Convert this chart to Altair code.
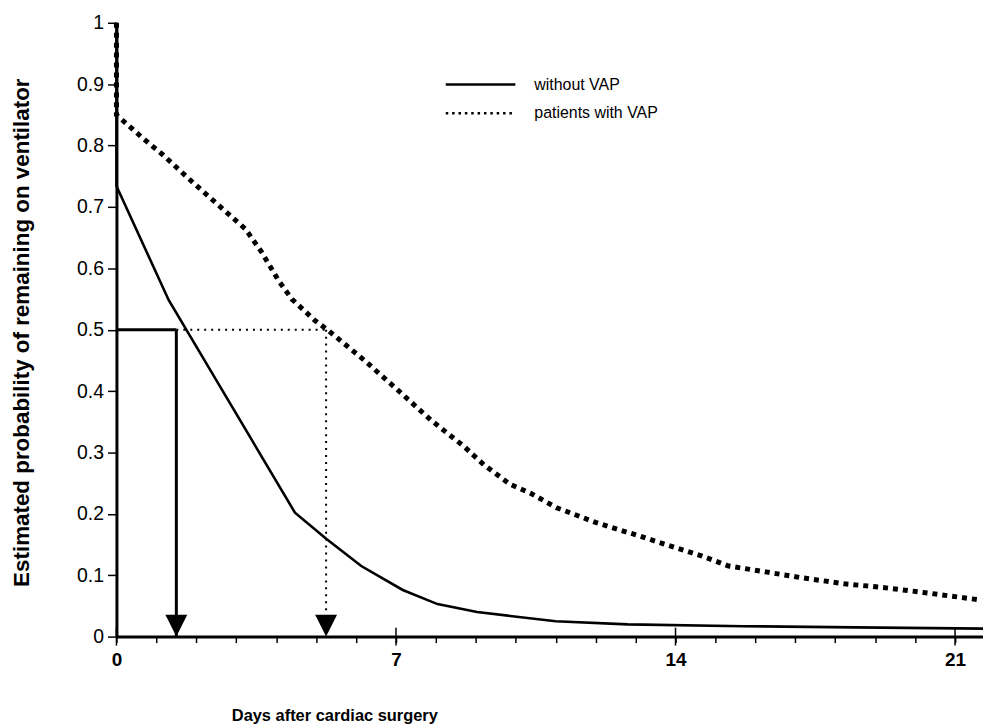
import altair as alt
import pandas as pd

# ---- data ----
no_vap_days = [0, 0, 1.31, 4.47, 5.26, 6.13, 7.17, 8.04, 9.03, 11.0, 12.8, 15.7, 18.5, 21.7]
no_vap_prob = [1.0, 0.734, 0.548, 0.202, 0.159, 0.115, 0.076, 0.053, 0.040, 0.025, 0.020, 0.017, 0.015, 0.013]

vap_days = [0, 0, 0.66, 1.16, 1.86, 2.57, 3.23, 3.64, 4.06, 4.39, 4.97, 5.3, 6.21, 7.04,
            7.87, 8.7, 9.2, 9.86, 10.36, 11.02, 12.0, 13.09, 14.0, 14.67, 15.33, 16.3,
            17.15, 18.23, 19.2, 20.2, 21.6]
vap_prob = [1.0, 0.85, 0.812, 0.785, 0.743, 0.702, 0.664, 0.626, 0.58, 0.55, 0.515, 0.499,
            0.45, 0.402, 0.353, 0.31, 0.28, 0.248, 0.234, 0.21, 0.186, 0.164, 0.145, 0.131,
            0.115, 0.105, 0.096, 0.086, 0.080, 0.072, 0.060]

series_names = ["without VAP", "patients with VAP"]
median_days = [1.5, 5.25]
median_level = 0.5

y_ticks = [0, 0.1, 0.2, 0.3, 0.4, 0.5, 0.6, 0.7, 0.8, 0.9, 1]
x_ticks = list(range(0, 22))
x_major = [0, 7, 14, 21]
x_domain = [0, 21.7]

x_title = "Days after cardiac surgery"
y_title = "Estimated probability of remaining on ventilator"

# ---- styling ----
SANS = "Liberation Sans, Arial, sans-serif"
NARROW = "'Liberation Sans Narrow', 'Arial Narrow', 'Liberation Sans', sans-serif"

x_scale = alt.Scale(domain=x_domain, nice=False, zero=False)
y_scale = alt.Scale(domain=[0, 1], nice=False)

x_axis = alt.Axis(
    values=x_ticks, format="d", title=x_title, grid=False,
    labelExpr="datum.value % 7 === 0 ? datum.label : ''",
    domainColor="black", domainWidth=3, tickColor="black", tickWidth=1.5, tickSize=6,
    labelFont=NARROW, labelFontSize=19, labelFontWeight="bold", labelColor="black",
    labelPadding=8, labelFlush=False, labelOverlap=False,
    titleFont=NARROW, titleFontSize=16.5, titleFontWeight="bold", titleColor="black",
    titleX=219, titleY=79, titleAlign="center", titleBaseline="middle",
)
y_axis = alt.Axis(
    values=y_ticks, format="~g", title=y_title, grid=False,
    domainColor="black", domainWidth=3, tickColor="black", tickWidth=1.5, tickSize=9,
    labelFont=SANS, labelFontSize=19.5, labelColor="black", labelPadding=4,
    labelFlush=False, labelOverlap=False,
    titleFont=SANS, titleFontSize=22.5, titleFontWeight="bold", titleColor="black",
    titleX=-95, titleY=311, titleAlign="center", titleBaseline="middle", titleAngle=270,
)


def X(field):
    return alt.X(field, scale=x_scale, axis=x_axis)


def Y(field):
    return alt.Y(field, scale=y_scale, axis=y_axis)


df_no = pd.DataFrame({"day": no_vap_days, "prob": no_vap_prob, "idx": range(len(no_vap_days))})
df_vap = pd.DataFrame({"day": vap_days, "prob": vap_prob, "idx": range(len(vap_days))})

line_no = alt.Chart(df_no).mark_line(color="black", strokeWidth=2.6).encode(
    x=X("day:Q"), y=Y("prob:Q"), order="idx:Q",
)
line_vap = alt.Chart(df_vap).mark_line(
    color="black", strokeWidth=5, strokeDash=[5, 5], strokeCap="butt"
).encode(x=X("day:Q"), y=Y("prob:Q"), order="idx:Q")

# median guide lines
h_solid = alt.Chart(pd.DataFrame({"day": [0], "b": [median_days[0]], "prob": [median_level]})).mark_rule(
    color="black", strokeWidth=3).encode(x=X("day:Q"), x2="b:Q", y=Y("prob:Q"))
h_dot = alt.Chart(pd.DataFrame({"day": [median_days[0]], "b": [median_days[1]], "prob": [median_level]})).mark_rule(
    color="black", strokeWidth=2, strokeDash=[2, 5]).encode(x=X("day:Q"), x2="b:Q", y=Y("prob:Q"))
v_solid = alt.Chart(pd.DataFrame({"day": [median_days[0]], "prob": [median_level], "y0": [0]})).mark_rule(
    color="black", strokeWidth=3).encode(x=X("day:Q"), y=Y("prob:Q"), y2="y0:Q")
v_dot = alt.Chart(pd.DataFrame({"day": [median_days[1]], "prob": [median_level], "y0": [0]})).mark_rule(
    color="black", strokeWidth=2, strokeDash=[2, 5]).encode(x=X("day:Q"), y=Y("prob:Q"), y2="y0:Q")
arrows = alt.Chart(pd.DataFrame({"day": median_days, "prob": [0, 0]})).mark_point(
    shape="M-1,-2L1,-2L0,0Z", size=484, filled=True, color="black", opacity=1).encode(
    x=X("day:Q"), y=Y("prob:Q"))

# major ticks crossing the x axis
major_ticks = alt.Chart(pd.DataFrame({"day": x_major, "prob": [0] * len(x_major)})).mark_tick(
    color="black", thickness=1.5, size=18, orient="vertical", opacity=1).encode(
    x=X("day:Q"), y=Y("prob:Q"))

# legend
leg1_line = alt.Chart(pd.DataFrame({"s": [series_names[0]]})).mark_rule(
    color="black", strokeWidth=2.5).encode(
    x=alt.value(331), x2=alt.value(401), y=alt.value(62))
leg2_line = alt.Chart(pd.DataFrame({"s": [series_names[1]]})).mark_rule(
    color="black", strokeWidth=2.5, strokeDash=[2.5, 3.9]).encode(
    x=alt.value(331), x2=alt.value(401), y=alt.value(91))
leg1_text = alt.Chart(pd.DataFrame({"s": [series_names[0]]})).mark_text(
    align="left", baseline="middle", font=SANS, fontSize=16, color="black").encode(
    text="s:N", x=alt.value(420), y=alt.value(63))
leg2_text = alt.Chart(pd.DataFrame({"s": [series_names[1]]})).mark_text(
    align="left", baseline="middle", font=SANS, fontSize=16, color="black").encode(
    text="s:N", x=alt.value(420), y=alt.value(91))

chart = alt.layer(
    line_no, line_vap, h_solid, h_dot, v_solid, v_dot, arrows, major_ticks,
    leg1_line, leg2_line, leg1_text, leg2_text,
).properties(
    width=871, height=617,
    padding={"left": 109, "top": 13, "right": 0, "bottom": 88},
    autosize=alt.AutoSizeParams(type="none"),
    background="white",
).configure_view(stroke=None)

chart.save("out.html", embed_options={"renderer": "svg", "actions": False})
